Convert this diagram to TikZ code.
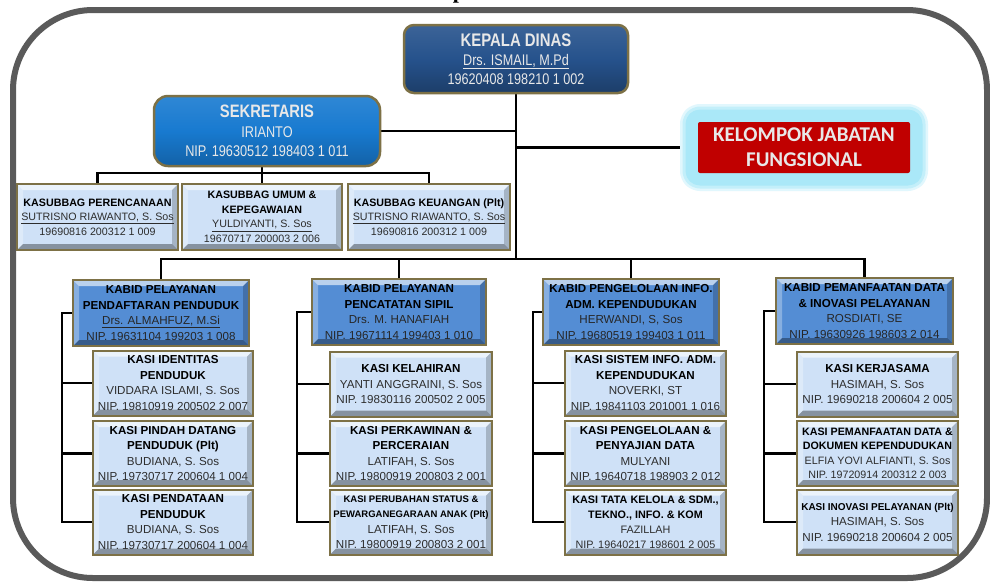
\documentclass[tikz,border=0pt]{standalone}
\usepackage{fontspec}
\setmainfont{Liberation Sans}
\newfontfamily\narrowfont{Liberation Sans}[FakeStretch=0.82]
\newfontfamily\calibfont{Carlito}
\newfontfamily\seriftitle{Liberation Serif}
\usetikzlibrary{backgrounds}
\definecolor{framegray}{RGB}{90,90,90}
\definecolor{boxborder}{RGB}{125,113,70}
\definecolor{kdblue}{RGB}{38,82,140}
\definecolor{sekblue}{RGB}{24,122,208}
\definecolor{kabidblue}{RGB}{84,141,212}
\definecolor{kasiblue}{RGB}{207,225,247}
\definecolor{glowcyan}{RGB}{170,232,248}
\definecolor{kjred}{RGB}{192,0,0}
\definecolor{lighttxt}{RGB}{232,232,232}
\definecolor{darktxt}{RGB}{45,45,45}
\newcommand\tb[1]{\textbf{\color{black}#1}}
\newcommand\kasifont{\fontsize{11.6}{15.5}\selectfont}
\newcommand\smallkasi{\fontsize{10.7}{14.5}\selectfont}
\tikzset{
  conn/.style={line width=2.6pt, black},
  bevel/.style={path picture={
    \path (path picture bounding box.north west) coordinate (bvNW)
          (path picture bounding box.north east) coordinate (bvNE)
          (path picture bounding box.south west) coordinate (bvSW)
          (path picture bounding box.south east) coordinate (bvSE);
    \fill[white,opacity=0.6] (bvNW) -- (bvNE) -- ([xshift=-#1,yshift=-#1]bvNE) -- ([xshift=#1,yshift=-#1]bvNW) -- cycle;
    \fill[white,opacity=0.3] (bvNW) -- ([xshift=#1,yshift=-#1]bvNW) -- ([xshift=#1,yshift=#1]bvSW) -- (bvSW) -- cycle;
    \fill[black,opacity=0.2] (bvNE) -- ([xshift=-#1,yshift=-#1]bvNE) -- ([xshift=-#1,yshift=#1]bvSE) -- (bvSE) -- cycle;
    \fill[black,opacity=0.35] (bvSW) -- (bvSE) -- ([xshift=-#1,yshift=#1]bvSE) -- ([xshift=#1,yshift=#1]bvSW) -- cycle;
  }},
  bevel/.default=6pt,
  kasibox/.style={draw=boxborder, line width=2pt, fill=kasiblue, bevel, minimum width=160pt,
    minimum height=65pt, inner sep=0pt, align=center, font=\kasifont, text=darktxt},
  subbox/.style={kasibox, minimum width=161pt, minimum height=66pt, font=\smallkasi},
  kabidbox/.style={draw=boxborder, line width=2pt, fill=kabidblue, bevel, minimum width=176pt,
    minimum height=66pt, inner sep=0pt, align=center, font=\kasifont, text=black!85},
  kdbox/.style={draw=boxborder, line width=2.5pt, rounded corners=10pt, top color=kdblue!90!white,
    bottom color=kdblue!75!black, middle color=kdblue, minimum width=224pt, minimum height=68pt,
    inner sep=0pt, align=center, font=\narrowfont\fontsize{15.4}{19}\selectfont, text=lighttxt},
  sekbox/.style={draw=boxborder, line width=2.5pt, rounded corners=14pt, top color=sekblue!90!white,
    bottom color=sekblue!80!black, middle color=sekblue, minimum width=226pt, minimum height=70pt,
    inner sep=0pt, align=center, font=\narrowfont\fontsize{15.5}{19.5}\selectfont, text=lighttxt},
  kjbox/.style={fill=kjred, rounded corners=2pt, minimum width=212pt, minimum height=51pt, inner sep=0pt,
    align=center, font=\calibfont\bfseries\fontsize{21}{25}\selectfont, text=lighttxt,
    preaction={draw=glowcyan!35, fill=glowcyan!35, line width=36pt, line join=round},
    preaction={draw=glowcyan!70, fill=glowcyan!70, line width=31pt, line join=round},
    preaction={draw=glowcyan, fill=glowcyan, line width=25pt, line join=round}},
}
\begin{document}
\begin{tikzpicture}[x=1pt,y=-1pt]
\useasboundingbox (0,0) rectangle (990,582);
% title fragment
\node[font=\seriftitle\bfseries\fontsize{22}{22}\selectfont, anchor=base, inner sep=0pt] (ttl) at (459,-1.5) {p};
% top level
\node[kdbox] (kd) at (516,59) {{\fontsize{18.2}{19}\selectfont\bfseries KEPALA DINAS}\\\underline{Drs. ISMAIL, M.Pd}\\19620408 198210 1 002};
\node[sekbox] (sek) at (267,131) {{\fontsize{18}{19.5}\selectfont\bfseries SEKRETARIS}\\IRIANTO\\NIP. 19630512 198403 1 011};
\node[kjbox] (kj) at (804,147.5) {KELOMPOK JABATAN\\FUNGSIONAL};
% subbag
\node[subbox] (sub1) at (97.5,217) {\tb{KASUBBAG PERENCANAAN}\\\underline{SUTRISNO RIAWANTO, S. Sos}\\19690816 200312 1 009};
\node[subbox, minimum width=160pt] (sub2) at (262,217) {\tb{KASUBBAG UMUM \&}\\\tb{KEPEGAWAIAN}\\\underline{YULDIYANTI, S. Sos}\\19670717 200003 2 006};
\node[subbox, minimum width=162pt] (sub3) at (429,217) {\tb{KASUBBAG KEUANGAN (Plt)}\\\underline{SUTRISNO RIAWANTO, S. Sos}\\19690816 200312 1 009};
% kabid
\node[kabidbox] (kb1) at (161,313) {\tb{KABID PELAYANAN}\\\tb{PENDAFTARAN PENDUDUK}\\\underline{Drs. ALMAHFUZ, M.Si}\\NIP. 19631104 199203 1 008};
\node[kabidbox, minimum width=174pt] (kb2) at (399,312) {\tb{KABID PELAYANAN}\\\tb{PENCATATAN SIPIL}\\Drs. M. HANAFIAH\\NIP. 19671114 199403 1 010};
\node[kabidbox] (kb3) at (631,312) {\tb{KABID PENGELOLAAN INFO.}\\\tb{ADM. KEPENDUDUKAN}\\HERWANDI, S, Sos\\NIP. 19680519 199403 1 011};
\node[kabidbox, minimum width=177pt] (kb4) at (864.5,311) {\tb{KABID PEMANFAATAN DATA}\\\tb{\& INOVASI PELAYANAN}\\ROSDIATI, SE\\NIP. 19630926 198603 2 014};
% kasi column 1
\node[kasibox] (k1a) at (173,383) {\tb{KASI IDENTITAS}\\\tb{PENDUDUK}\\VIDDARA ISLAMI, S. Sos\\NIP. 19810919 200502 2 007};
\node[kasibox] (k1b) at (173,453.5) {\tb{KASI PINDAH DATANG}\\\tb{PENDUDUK (Plt)}\\BUDIANA, S. Sos\\NIP. 19730717 200604 1 004};
\node[kasibox] (k1c) at (173,522) {\tb{KASI PENDATAAN}\\\tb{PENDUDUK}\\BUDIANA, S. Sos\\NIP. 19730717 200604 1 004};
% kasi column 2
\node[kasibox, minimum width=162pt] (k2a) at (411,384) {\tb{KASI KELAHIRAN}\\YANTI ANGGRAINI, S. Sos\\NIP. 19830116 200502 2 005};
\node[kasibox, minimum width=162pt] (k2b) at (411,453.5) {\tb{KASI PERKAWINAN \&}\\\tb{PERCERAIAN}\\LATIFAH, S. Sos\\NIP. 19800919 200803 2 001};
\node[kasibox, minimum width=162pt] (k2c) at (411,522) {{\fontsize{9.5}{13}\selectfont\tb{KASI PERUBAHAN STATUS \&}}\\{\fontsize{9.5}{13}\selectfont\tb{PEWARGANEGARAAN ANAK (Plt)}}\\LATIFAH, S. Sos\\NIP. 19800919 200803 2 001};
% kasi column 3
\node[kasibox, minimum width=161pt] (k3a) at (645.5,383) {\tb{KASI SISTEM INFO. ADM.}\\\tb{KEPENDUDUKAN}\\NOVERKI, ST\\NIP. 19841103 201001 1 016};
\node[kasibox, minimum width=161pt] (k3b) at (645.5,453.5) {\tb{KASI PENGELOLAAN \&}\\\tb{PENYAJIAN DATA}\\MULYANI\\NIP. 19640718 198903 2 012};
\node[kasibox, minimum width=161pt, font=\fontsize{10.8}{15}\selectfont] (k3c) at (645.5,522) {\tb{KASI TATA KELOLA \& SDM.,}\\\tb{TEKNO., INFO. \& KOM}\\FAZILLAH\\NIP. 19640217 198601 2 005};
% kasi column 4
\node[kasibox, minimum width=161pt] (k4a) at (877.5,384) {\tb{KASI KERJASAMA}\\HASIMAH, S. Sos\\NIP. 19690218 200604 2 005};
\node[kasibox, minimum width=161pt, font=\smallkasi] (k4b) at (877.5,453.5) {\tb{KASI PEMANFAATAN DATA \&}\\\tb{DOKUMEN KEPENDUDUKAN}\\ELFIA YOVI ALFIANTI, S. Sos\\NIP. 19720914 200312 2 003};
\node[kasibox, minimum width=161pt] (k4c) at (877.5,522) {{\fontsize{10}{14}\selectfont\tb{KASI INOVASI PELAYANAN (Plt)}}\\HASIMAH, S. Sos\\NIP. 19690218 200604 2 005};
% connectors and frame
\begin{pgfonlayer}{background}
\fill[white] (0,0) rectangle (990,582);
\draw[framegray, line width=6pt, rounded corners=80pt] (13,10) rectangle (987,578);
\coordinate (bus) at (0,259);
\coordinate (sbus) at (0,173);
\draw[conn] (kd.south) -- (kd.south |- bus);
\draw[conn] (sek.east) -- (sek.east -| kd.south);
\draw[conn] (kd.south |- kj.west) -- (kj.west);
\draw[conn] (kb1.north) -- (kb1.north |- bus) -- (kb4.north |- bus) -- (kb4.north);
\draw[conn] (kb2.north |- bus) -- (kb2.north);
\draw[conn] (kb3.north |- bus) -- (kb3.north);
\draw[conn] (sub1.north) -- (sub1.north |- sbus) -- (sub3.north |- sbus) -- (sub3.north);
\draw[conn] (sek.south -| sub2.north) -- (sub2.north);
\foreach \c/\x in {1/62,2/297,3/533,4/764} {
  \coordinate (br\c) at (\x,0);
  \draw[conn] (kb\c.west) -- (br\c |- kb\c.west) -- (br\c |- k\c c.west) -- (k\c c.west);
  \draw[conn] (br\c |- k\c a.west) -- (k\c a.west);
  \draw[conn] (br\c |- k\c b.west) -- (k\c b.west);
}
\end{pgfonlayer}
\end{tikzpicture}
\end{document}
